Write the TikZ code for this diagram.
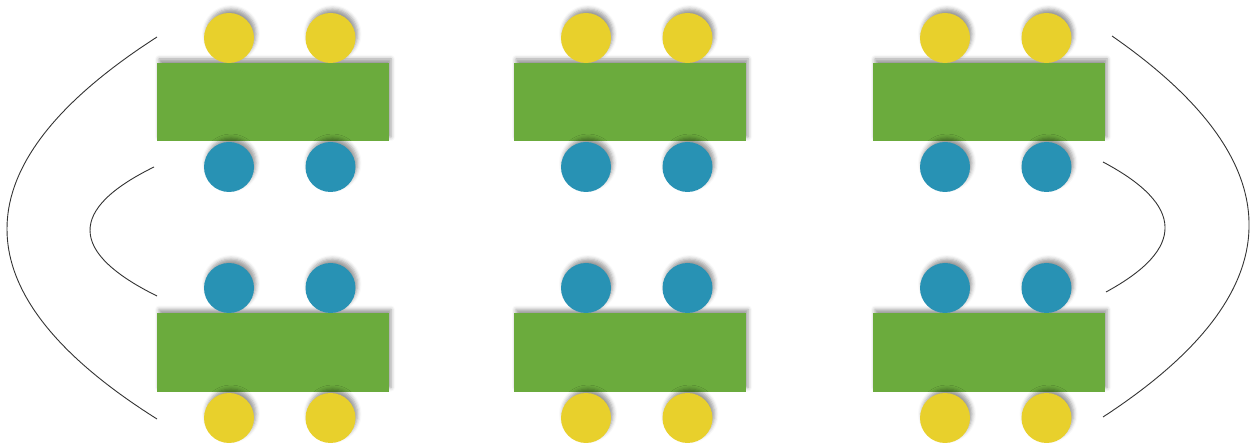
\documentclass[tikz,border=0pt]{standalone}
\usetikzlibrary{shadows.blur}
\definecolor{felt green}{RGB}{107,171,61}
\definecolor{felt yellow}{RGB}{232,208,44}
\definecolor{felt blue}{RGB}{40,146,180}
\tikzset{
  softshadow/.style={blur shadow={shadow xshift=2pt, shadow yshift=4pt, shadow blur radius=4pt, shadow opacity=40}},
  tablebox/.style={rectangle, fill=felt green, minimum width=232pt, minimum height=78pt, inner sep=0pt, softshadow},
  seat/.style={circle, minimum size=50pt, inner sep=0pt, softshadow},
  yseat/.style={seat, fill=felt yellow},
  bseat/.style={seat, fill=felt blue},
  arcline/.style={draw=black!80, line width=0.9pt}
}
\begin{document}
\begin{tikzpicture}[x=1pt,y=-1pt]
\useasboundingbox (0,0) rectangle (1258,443);
% tables
\foreach \n/\cx in {a/273,b/630,c/989}{
  \node[tablebox] (top\n) at (\cx,102) {};
  \node[tablebox] (bot\n) at (\cx,352.5) {};
  \node[yseat] (ty1\n) at (\cx-44,38) {};
  \node[yseat] (ty2\n) at (\cx+57.5,38) {};
  \node[bseat] (tb1\n) at (\cx-44,167) {};
  \node[bseat] (tb2\n) at (\cx+57.5,167) {};
  \node[bseat] (bb1\n) at (\cx-44,288) {};
  \node[bseat] (bb2\n) at (\cx+57.5,288) {};
  \node[yseat] (by1\n) at (\cx-44,418) {};
  \node[yseat] (by2\n) at (\cx+57.5,418) {};
}
% curves
\coordinate (lo1) at (157,37);
\coordinate (lo2) at (157,419);
\coordinate (li1) at (154,167);
\coordinate (li2) at (157,296);
\coordinate (ro1) at (1112,36);
\coordinate (ro2) at (1103,417);
\coordinate (ri1) at (1103,162);
\coordinate (ri2) at (1106,292);
\draw[arcline] (lo1) .. controls (-43,165.7) and (-43,293) .. (lo2);
\draw[arcline] (li1) .. controls (67.7,209.3) and (68.7,252.3) .. (li2);
\draw[arcline] (ro1) .. controls (1297.7,165) and (1294.7,292) .. (ro2);
\draw[arcline] (ri1) .. controls (1184.7,205.3) and (1185.7,248.7) .. (ri2);
\end{tikzpicture}
\end{document}
